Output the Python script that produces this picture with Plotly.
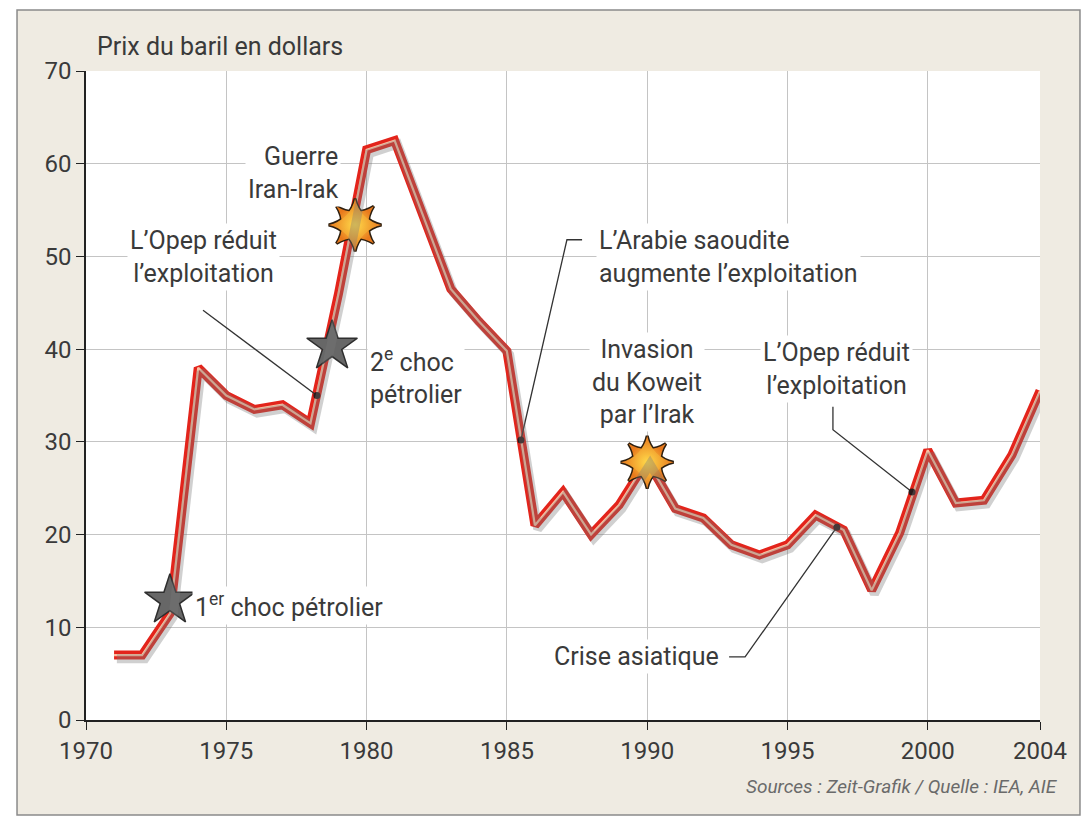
import plotly.graph_objects as go

# ---- data ----
years = [1971, 1972, 1973, 1974, 1975, 1976, 1977, 1978, 1979, 1980, 1981, 1982, 1983,
         1984, 1985, 1986, 1987, 1988, 1989, 1990, 1991, 1992, 1993, 1994, 1995, 1996,
         1997, 1998, 1999, 2000, 2001, 2002, 2003, 2004]
price = [7.0, 7.0, 11.5, 38.0, 35.0, 33.5, 34.0, 32.0, 46.0, 61.5, 62.5, 54.5, 46.5,
         43.0, 39.8, 21.0, 24.6, 20.0, 23.2, 28.0, 22.8, 21.8, 18.9, 17.8, 18.9, 22.1,
         20.5, 14.0, 20.2, 29.1, 23.4, 23.7, 28.6, 35.5]

# grey stars (oil shocks)
shock_x = [1972.99, 1978.77]
shock_y = [12.9, 40.3]
# bursts (wars)
war_x = [1979.59, 1990.0]
war_y = [53.4, 27.8]
# small dots (production decisions / crisis)
dot_x = [1978.23, 1985.5, 1996.76, 1999.44]
dot_y = [35.0, 30.2, 20.8, 24.6]

x_ticks = [1970, 1975, 1980, 1985, 1990, 1995, 2000, 2004]
y_ticks = [0, 10, 20, 30, 40, 50, 60, 70]

FONT = "Roboto"
TXT = "#3a3a3a"

fig = go.Figure()

# shadow (on shifted overlay axes)
fig.add_trace(go.Scatter(x=years, y=price, mode="lines", xaxis="x2", yaxis="y2",
                         line=dict(color="rgba(120,120,120,0.35)", width=9),
                         hoverinfo="skip", showlegend=False))
# red line
fig.add_trace(go.Scatter(x=years, y=price, mode="lines",
                         line=dict(color="#e3241b", width=9),
                         showlegend=False))
fig.add_trace(go.Scatter(x=years, y=price, mode="lines",
                         line=dict(color="#fbbfa2", width=2.2),
                         hoverinfo="skip", showlegend=False))

# leader lines (label anchor -> event dot)
leaders = [
    ([1974.17, dot_x[0]], [44.2, dot_y[0]]),
    ([1987.68, 1987.14, dot_x[1]], [51.8, 51.8, dot_y[1]]),
    ([1996.62, 1996.62, dot_x[3]], [33.8, 31.3, dot_y[3]]),
    ([1992.92, 1993.49, dot_x[2]], [6.8, 6.8, dot_y[2]]),
]
for lx, ly in leaders:
    fig.add_trace(go.Scatter(x=lx, y=ly, mode="lines",
                             line=dict(color="#333333", width=1.3),
                             hoverinfo="skip", showlegend=False))

fig.add_trace(go.Scatter(x=dot_x, y=dot_y, mode="markers",
                         marker=dict(color="#2a1a1a", size=7),
                         showlegend=False))

# grey stars
fig.add_trace(go.Scatter(x=shock_x, y=shock_y, mode="markers",
                         marker=dict(symbol="star", size=38, color="#676767",
                                     line=dict(color="#2e2e2e", width=1.5)),
                         showlegend=False))

# 8-point bursts: two rotated 4-point stars, outlined then refilled
for outline in (True, False):
    for ang in (0, 45):
        fig.add_trace(go.Scatter(
            x=war_x, y=war_y, mode="markers", hoverinfo="skip", showlegend=False,
            marker=dict(symbol="star-square", size=34, angle=ang, color="#e8791c",
                        gradient=dict(type="radial", color="#ffd94a"),
                        line=dict(color="#2e2010", width=3 if outline else 0))))

ann = []
def note(x, y, text, xanchor="center", align="center"):
    ann.append(dict(x=x, y=y, xref="x", yref="y", text=text, showarrow=False,
                    xanchor=xanchor, yanchor="middle", align=align,
                    font=dict(family=FONT, size=25, color=TXT),
                    bgcolor="white", borderpad=2))

note(1979.1, 59.0, "Guerre<br>Iran-Irak", xanchor="right", align="right")
note(1974.2, 49.9, "L’Opep réduit<br>l’exploitation")
note(1980.0, 37.0, "2<sup>e</sup> choc<br>pétrolier", xanchor="left", align="left")
note(1973.78, 12.4, "1<sup>er</sup> choc pétrolier", xanchor="left", align="left")
note(1988.17, 49.9, "L’Arabie saoudite<br>augmente l’exploitation", xanchor="left", align="left")
note(1990.0, 36.5, "Invasion<br>du Koweit<br>par l’Irak")
note(1996.73, 37.9, "L’Opep réduit<br>l’exploitation")
note(1992.65, 6.9, "Crise asiatique", xanchor="right", align="right")

ann.append(dict(x=0.0094, y=1.037, xref="paper", yref="paper", showarrow=False,
                text="Prix du baril en dollars", xanchor="left", yanchor="middle",
                font=dict(family=FONT, size=25, color=TXT)))
ann.append(dict(x=1.021, y=-0.103, xref="paper", yref="paper", showarrow=False,
                text="<i>Sources : Zeit-Grafik / Quelle : IEA, AIE</i>",
                xanchor="right", yanchor="middle",
                font=dict(family=FONT, size=19, color="#6a6a6a")))

BEIGE = "#efebe2"
white_strips = [
    (-0.2, -0.0723, -0.3, 1.3),
    (1.0419, 1.2, -0.3, 1.3),
    (-0.2, 1.2, 1.094, 1.3),
    (-0.2, 1.2, -0.3, -0.1464),
]
shapes = [dict(type="rect", xref="paper", yref="paper", x0=a, x1=b, y0=c, y1=d,
               fillcolor="white", line=dict(width=0), layer="below")
          for a, b, c, d in white_strips]
shapes.append(dict(type="rect", xref="paper", yref="paper",
                   x0=-0.0723, x1=1.0419, y0=-0.1464, y1=1.094,
                   fillcolor="rgba(0,0,0,0)", line=dict(color="#8a8a8a", width=1.5),
                   layer="below"))

fig.update_layout(
    width=1086, height=821,
    margin=dict(l=86, r=46, t=71, b=101),
    paper_bgcolor=BEIGE, plot_bgcolor="white",
    showlegend=False,
    annotations=ann,
    shapes=shapes,
    xaxis=dict(range=[1970, 2004], tickvals=x_ticks, ticktext=[str(v) for v in x_ticks],
               showgrid=True, gridcolor="#c4c4c4", gridwidth=1,
               showline=True, linecolor="#222222", linewidth=1.5,
               ticks="outside", ticklen=8, tickcolor="#222222",
               tickfont=dict(family=FONT, size=24, color=TXT), zeroline=False),
    yaxis=dict(range=[0, 70], tickvals=y_ticks,
               showgrid=True, gridcolor="#c4c4c4", gridwidth=1,
               showline=True, linecolor="#222222", linewidth=1.5,
               ticks="outside", ticklen=8, tickcolor="#222222",
               tickfont=dict(family=FONT, size=24, color=TXT), zeroline=False),
    xaxis2=dict(range=[1970 - 0.1, 2004 - 0.1], overlaying="x", visible=False),
    yaxis2=dict(range=[0.4, 70.4], overlaying="y", visible=False),
)

fig.write_html("out.html")
